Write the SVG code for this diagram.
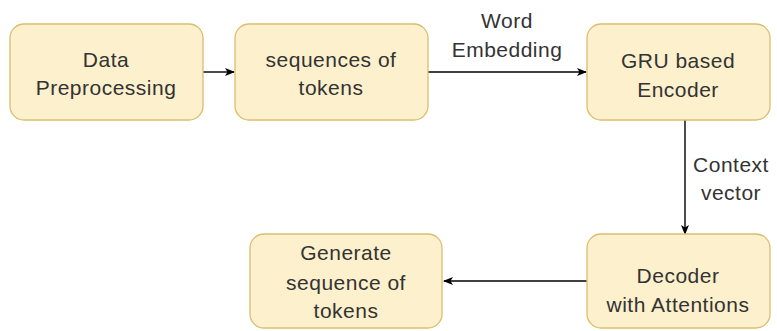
<svg xmlns="http://www.w3.org/2000/svg" width="777" height="331" viewBox="0 0 777 331">
<defs>
<style>
.box{fill:#fdf0cc;stroke:#d9be6e;stroke-width:1.3}
.t{font-family:"Liberation Sans",Arial,sans-serif;font-size:21px;letter-spacing:0.5px;fill:#333;text-anchor:middle}
.c{stroke:#000;stroke-width:1.4;fill:none;marker-end:url(#a)}
</style>
<marker id="a" markerWidth="12" markerHeight="12" refX="9" refY="5" orient="auto" markerUnits="userSpaceOnUse">
<path d="M0,1 L10,5 L0,9 L2.5,5 Z" fill="#000"/>
</marker>
</defs>
<rect width="777" height="331" fill="#fff"/>
<g id="connectors">
<line class="c" x1="203" y1="72" x2="234" y2="72"/>
<line class="c" x1="428" y1="72" x2="586" y2="72"/>
<line class="c" x1="685" y1="120" x2="685" y2="234"/>
<line class="c" x1="587" y1="281" x2="444" y2="281"/>
<text class="t" x="507" y="28">Word</text>
<text class="t" x="507" y="57">Embedding</text>
<text class="t" x="731" y="172">Context</text>
<text class="t" x="731" y="200">vector</text>
</g>
<g id="n1"><rect class="box" x="10" y="24" width="193" height="96" rx="14"/>
<text class="t" x="106" y="67">Data</text><text class="t" x="106" y="95">Preprocessing</text></g>
<g id="n2"><rect class="box" x="235" y="24" width="193" height="96" rx="14"/>
<text class="t" x="331" y="67">sequences of</text><text class="t" x="331" y="95">tokens</text></g>
<g id="n3"><rect class="box" x="587" y="24" width="183" height="96" rx="14"/>
<text class="t" x="678" y="68">GRU based</text><text class="t" x="678" y="97">Encoder</text></g>
<g id="n4"><rect class="box" x="587" y="234" width="183" height="94" rx="14"/>
<text class="t" x="678" y="283">Decoder</text><text class="t" x="678" y="312">with Attentions</text></g>
<g id="n5"><rect class="box" x="250" y="234" width="192" height="94" rx="14"/>
<text class="t" x="346" y="260">Generate</text><text class="t" x="346" y="290">sequence of</text><text class="t" x="346" y="318">tokens</text></g>
</svg>
